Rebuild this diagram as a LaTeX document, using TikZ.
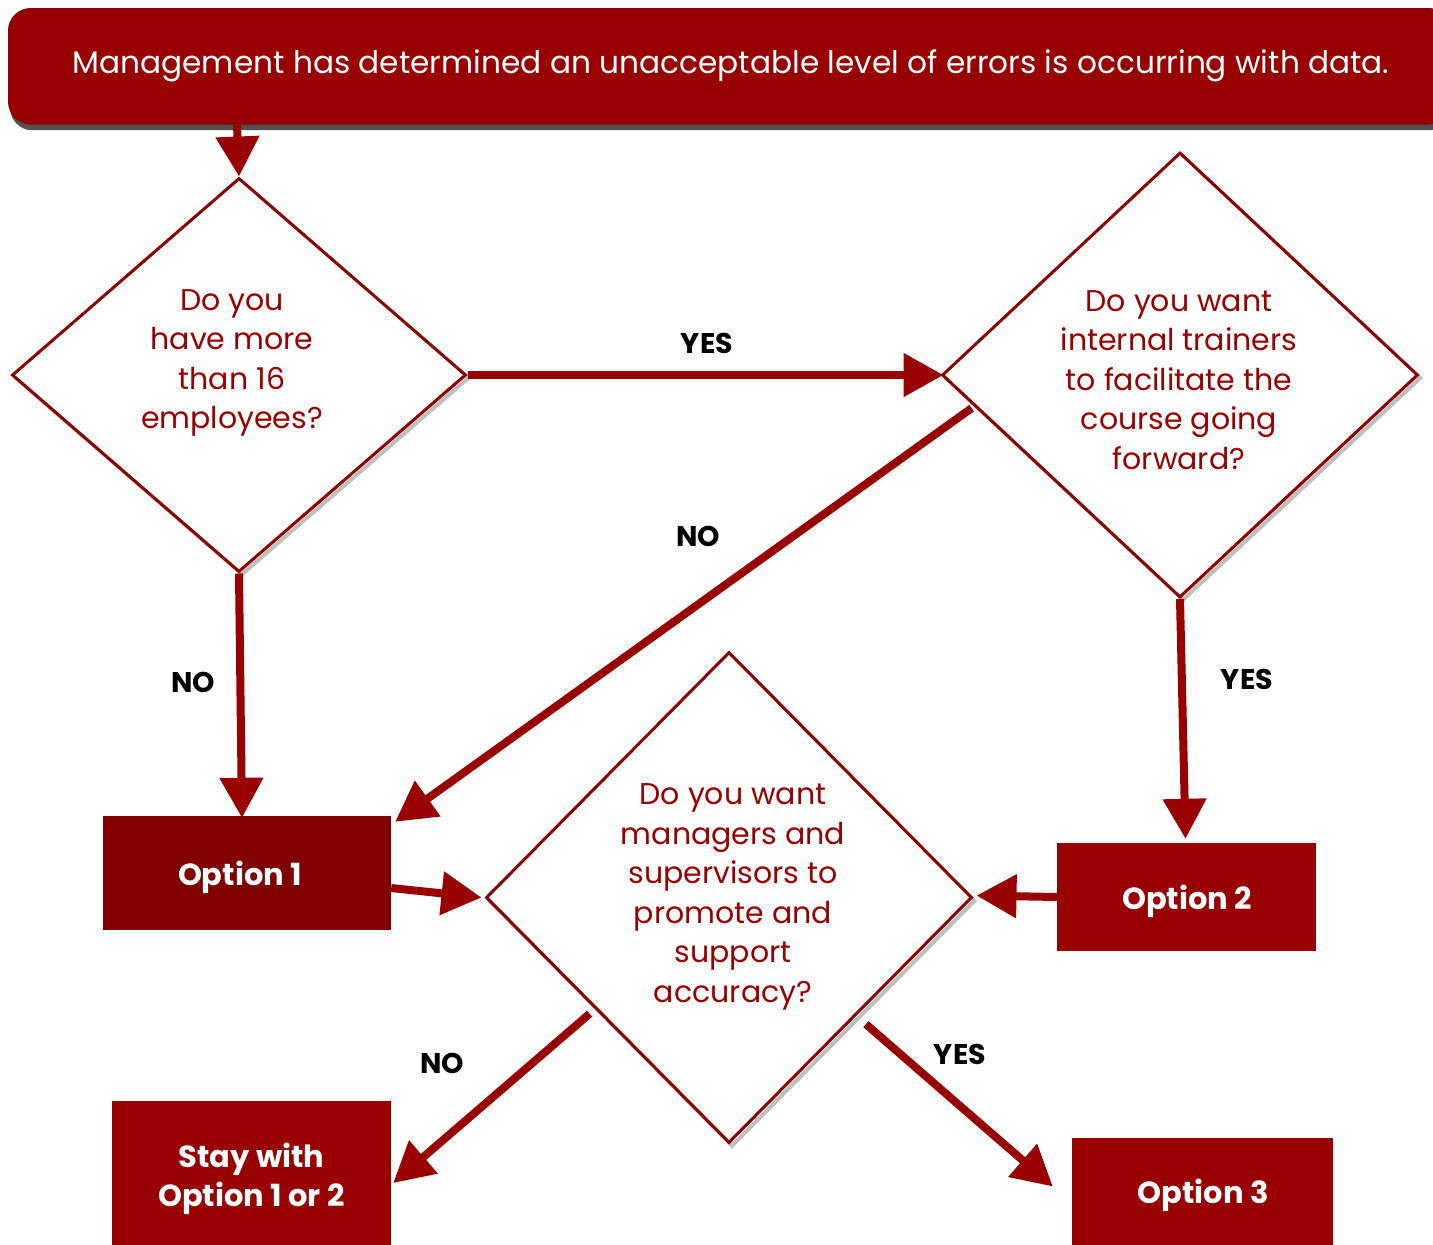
\documentclass[tikz,border=0pt]{standalone}
\usepackage{fontspec}
\setmainfont{Poppins}
\usetikzlibrary{arrows.meta,shapes.geometric,calc}
\definecolor{dred}{HTML}{990000}
\definecolor{ddred}{HTML}{800000}
\definecolor{edgered}{HTML}{8B0000}
\begin{document}
\begin{tikzpicture}[x=1pt,y=-1pt,
  q/.style={diamond, draw=edgered, line width=3pt, inner sep=0pt},
  qshadow/.style={diamond, draw=black!25, line width=4pt, inner sep=0pt},
  qtext/.style={text=dred, align=center, font=\fontsize{30}{39.5}\selectfont},
  opt/.style={fill=dred, text=white, align=center, inner sep=0pt},
  opttext/.style={text=white, font=\fontsize{30.5}{39}\selectfont\bfseries, align=center, inner sep=0pt},
  lbl/.style={font=\fontsize{28.5}{30}\selectfont\bfseries, text=black},
  arr/.style={draw=dred, line width=8pt, -{Triangle[length=40pt,width=42pt]}},
  ]
\useasboundingbox (0,0) rectangle (1433,1245);
\fill[white] (0,0) rectangle (1433,1245);
% banner
\node[fill=black!85, rounded corners=22pt, minimum width=1442pt, minimum height=115pt, anchor=north west, opacity=0.8] (topsh) at (10,15) {};
\node[fill=dred, draw=edgered, line width=1.5pt, rounded corners=22pt, minimum width=1442pt, minimum height=115pt, anchor=north west] (top) at (8,8) {};
\node[text=white, font=\fontsize{31.2}{36}\selectfont] (toptext) at (731,66) {Management has determined an unacceptable level of errors is occurring with data.};
% diamonds
\node[qshadow, minimum width=454pt, minimum height=394pt] (d1s) at (242,378) {};
\node[qshadow, minimum width=476pt, minimum height=445pt] (d2s) at (1183,378) {};
\node[qshadow, minimum width=486pt, minimum height=491pt] (d3s) at (732,901) {};
\node[q, fill=white, minimum width=454pt, minimum height=394pt] (d1) at (239,375) {};
\node[q, fill=white, minimum width=476pt, minimum height=445pt] (d2) at (1180,375) {};
\node[q, fill=white, minimum width=486pt, minimum height=491pt] (d3) at (729,897.5) {};
\node[qtext] (d1t) at (232,363) {Do you\\have more\\than 16\\employees?};
\node[qtext] (d2t) at (1179,380) {Do you want\\internal trainers\\to facilitate the\\course going\\forward?};
\node[qtext] (d3t) at (733,897) {Do you want\\managers and\\supervisors to\\promote and\\support\\accuracy?};
% option boxes
\node[opt, fill=ddred, minimum width=288pt, minimum height=114pt] (o1) at (247,873) {};
\node[opttext] (o1t) at (240,877) {Option 1};
\node[opt, minimum width=259pt, minimum height=108pt] (o2) at (1186.5,897) {};
\node[opttext] (o2t) at (1187,901) {Option 2};
\node[opt, minimum width=279pt, minimum height=144pt] (o4) at (251.5,1173) {};
\node[opttext] (o4t) at (251.5,1179) {Stay with\\Option 1 or 2};
\node[opt, minimum width=261pt, minimum height=107pt] (o3) at (1202.5,1191.5) {};
\node[opttext] (o3t) at (1203,1195) {Option 3};
% arrows
\draw[arr] (top.south -| 237,0) -- (d1.north);
\draw[arr] (d1.east) -- ($(d2.west)+(3,0)$);
\draw[arr] ($(d2.west)!0.13!(d2.south)+(0,4)$) -- ($(o1.north east)+(4,6)$);
\draw[arr] (d1.south) -- ($(o1.north)+(-5,2)$);
\draw[arr] (d2.south) -- ($(o2.north)+(-1,-4)$);
\draw[arr] ($(o1.east)+(0,15)$) -- ($(d3.west)+(-3,0)$);
\draw[arr] (o2.west) -- ($(d3.east)+(3,-2)$);
\draw[arr] ($(d3.west)!0.43!(d3.south)+(0,10)$) -- ($(o4.east)+(2,10)$);
\draw[arr] ($(d3.south)!0.56!(d3.east)+(0,18)$) -- ($(o3.west)+(-19,-5)$);
% labels
\node[lbl] (l1) at (707,343) {YES};
\node[lbl] (l2) at (698,536) {NO};
\node[lbl] (l3) at (193,682) {NO};
\node[lbl] (l4) at (1247,679) {YES};
\node[lbl] (l5) at (442,1063) {NO};
\node[lbl] (l6) at (960,1054) {YES};
\end{tikzpicture}
\end{document}
